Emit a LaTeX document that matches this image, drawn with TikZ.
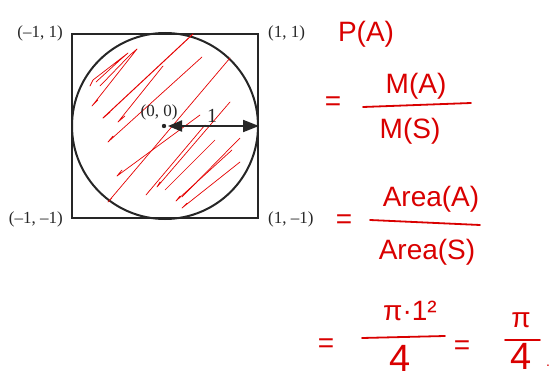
\documentclass[tikz,border=0pt]{standalone}
\usepackage{fontspec}
\setmainfont{Liberation Serif}
\newfontfamily\handfont{Liberation Sans}
\usetikzlibrary{arrows.meta}
\begin{document}
\begin{tikzpicture}[x=1pt,y=-1pt,
  coordlabel/.style={font=\fontsize{17}{19}\selectfont, text=black!85, inner sep=0pt},
  redtext/.style={font=\handfont\fontsize{28}{30}\selectfont, text=red!85!black, inner sep=0pt},
  bigred/.style={redtext, font=\handfont\fontsize{38}{40}\selectfont},
  redline/.style={draw=red!85!black, line width=1.8pt, line cap=round},
  scribble/.style={draw=red!90!black, line width=0.7pt, line cap=round, line join=round}]
\useasboundingbox (0,0) rectangle (552,380);
% square and circle
\node[draw=black!85, line width=2pt, minimum width=186pt, minimum height=184pt, inner sep=0pt] (sq) at (165,126) {};
\node[draw=black!85, line width=2pt, circle, minimum size=186pt, inner sep=0pt] (c) at (165,126) {};
% red scribbles
\draw[scribble] (112,198) -- (108,202) -- (230,58);
\draw[scribble, line width=1pt] (110,112) -- (103,118) -- (193,34);
\draw[scribble] (98,100) -- (92,106) -- (137,49) -- (130,55) -- (100,86);
\draw[scribble] (113,136) -- (108,142) -- (202,57);
\draw[scribble] (90,86) -- (93,80) -- (128,53) -- (120,60) -- (96,82);
\draw[scribble] (125,116) -- (118,122) -- (163,66);
\draw[scribble] (122,170) -- (117,176) -- (200,115);
\draw[scribble] (160,182) -- (157,187) -- (230,102);
\draw[scribble] (150,190) -- (146,195) -- (205,125);
\draw[scribble] (186,192) -- (182,197) -- (240,138);
\draw[scribble] (187,203) -- (182,208) -- (240,162);
\draw[scribble] (180,196) -- (176,201) -- (232,150);
\draw[scribble] (170,185) -- (165,190) -- (215,140);
% center point and radius arrow
\fill[black!85] (164,126) circle (2.2pt) coordinate (o);
\coordinate (r) at (c.east);
\draw[black!85, line width=2pt, {Triangle[length=14pt,width=11pt]}-{Triangle[length=16pt,width=12pt]}] (168,126) -- (r);
\node[coordlabel] (olab) at (159,112) {(0, 0)};
\node[coordlabel, font=\fontsize{20}{22}\selectfont] (one) at (212,116) {1};
% corner labels
\node[coordlabel, anchor=east] (nw) at ([xshift=-8pt]sq.north west) {(–1, 1)};
\node[coordlabel, anchor=west] (ne) at ([xshift=9pt]sq.north east) {(1, 1)};
\node[coordlabel, anchor=east] (sw) at ([xshift=-8pt]sq.south west) {(–1, –1)};
\node[coordlabel, anchor=west] (se) at ([xshift=9pt]sq.south east) {(1, –1)};
% red handwritten formula
\node[redtext] (pa) at (366,34) {P(A)};
\node[redtext] (eq1) at (333,104) {=};
\node[redtext] (ma) at (416,86) {M(A)};
\node[redtext] (ms) at (410,131) {M(S)};
\draw[redline] (363,107) -- (471,103);
\node[redtext] (eq2) at (344,222) {=};
\node[redtext] (aa) at (431,199) {Area(A)};
\node[redtext] (as) at (427,252) {Area(S)};
\draw[redline] (370,220) -- (480,225);
\node[redtext] (eq3) at (326,346) {=};
\node[redtext] (pi1) at (410,311) {π·1²};
\draw[redline] (362,338) -- (445,336);
\node[bigred] (four1) at (400,358) {4};
\node[redtext] (eq4) at (462,348) {=};
\node[redtext] (pi2) at (521,320) {π};
\draw[redline] (505,340) -- (540,340);
\node[bigred] (four2) at (521,356) {4};
\node[redtext, font=\handfont\fontsize{14}{16}\selectfont] (dot) at (548,366) {.};
\end{tikzpicture}
\end{document}
